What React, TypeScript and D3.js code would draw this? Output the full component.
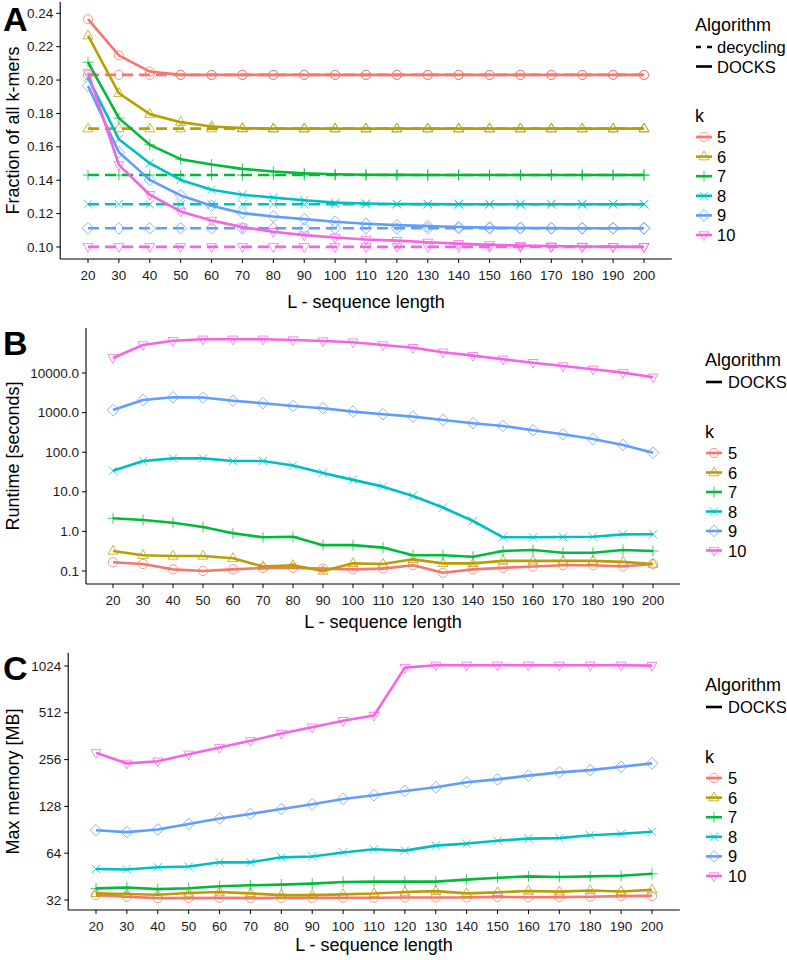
import React from "react";
import * as d3 from "d3";

// ---------- DATA ----------
const lengths = [20, 30, 40, 50, 60, 70, 80, 90, 100, 110, 120, 130, 140, 150, 160, 170, 180, 190, 200];
const kValues = [5, 6, 7, 8, 9, 10];
const kColors = ["#F8766D", "#B79F00", "#00BA38", "#00BFC4", "#619CFF", "#F564E3"];
const kShapes = ["circle", "triangleUp", "plus", "cross", "diamond", "triangleDown"];

// Panel A: fraction of all k-mers
const decycling5 = [0.2031, 0.2031, 0.2031, 0.2031, 0.2031, 0.2031, 0.2031, 0.2031, 0.2031, 0.2031, 0.2031, 0.2031, 0.2031, 0.2031, 0.2031, 0.2031, 0.2031, 0.2031, 0.2031];
const decycling6 = [0.1709, 0.1709, 0.1709, 0.1709, 0.1709, 0.1709, 0.1709, 0.1709, 0.1709, 0.1709, 0.1709, 0.1709, 0.1709, 0.1709, 0.1709, 0.1709, 0.1709, 0.1709, 0.1709];
const decycling7 = [0.1431, 0.1431, 0.1431, 0.1431, 0.1431, 0.1431, 0.1431, 0.1431, 0.1431, 0.1431, 0.1431, 0.1431, 0.1431, 0.1431, 0.1431, 0.1431, 0.1431, 0.1431, 0.1431];
const decycling8 = [0.1256, 0.1256, 0.1256, 0.1256, 0.1256, 0.1256, 0.1256, 0.1256, 0.1256, 0.1256, 0.1256, 0.1256, 0.1256, 0.1256, 0.1256, 0.1256, 0.1256, 0.1256, 0.1256];
const decycling9 = [0.1112, 0.1112, 0.1112, 0.1112, 0.1112, 0.1112, 0.1112, 0.1112, 0.1112, 0.1112, 0.1112, 0.1112, 0.1112, 0.1112, 0.1112, 0.1112, 0.1112, 0.1112, 0.1112];
const decycling10 = [0.1001, 0.1001, 0.1001, 0.1001, 0.1001, 0.1001, 0.1001, 0.1001, 0.1001, 0.1001, 0.1001, 0.1001, 0.1001, 0.1001, 0.1001, 0.1001, 0.1001, 0.1001, 0.1001];

const docksFrac5 = [0.2365, 0.2148, 0.2051, 0.2031, 0.2031, 0.2031, 0.2031, 0.2031, 0.2031, 0.2031, 0.2031, 0.2031, 0.2031, 0.2031, 0.2031, 0.2031, 0.2031, 0.2031, 0.2031];
const docksFrac6 = [0.2266, 0.1921, 0.1796, 0.1748, 0.1722, 0.1712, 0.1709, 0.1709, 0.1709, 0.1709, 0.1709, 0.1709, 0.1709, 0.1709, 0.1709, 0.1709, 0.1709, 0.1709, 0.1709];
const docksFrac7 = [0.2107, 0.1772, 0.1612, 0.1526, 0.1494, 0.1468, 0.1452, 0.1441, 0.1436, 0.1433, 0.1432, 0.1431, 0.1431, 0.1431, 0.1431, 0.1431, 0.1431, 0.1431, 0.1431];
const docksFrac8 = [0.2015, 0.1646, 0.1502, 0.1402, 0.1343, 0.1313, 0.1296, 0.1280, 0.1266, 0.1261, 0.1258, 0.1257, 0.1256, 0.1256, 0.1256, 0.1256, 0.1256, 0.1256, 0.1256];
const docksFrac9 = [0.1965, 0.1568, 0.1402, 0.1309, 0.1247, 0.1203, 0.1183, 0.1167, 0.1151, 0.1139, 0.1131, 0.1125, 0.1120, 0.1116, 0.1114, 0.1113, 0.1112, 0.1112, 0.1112];
const docksFrac10 = [0.2045, 0.1492, 0.1313, 0.1213, 0.1159, 0.1119, 0.1091, 0.1071, 0.1057, 0.1045, 0.1038, 0.1028, 0.1020, 0.1013, 0.1008, 0.1005, 0.1003, 0.1002, 0.1001];

// Panel B: runtime [seconds]
const runtime5 = [0.166, 0.15, 0.11, 0.10, 0.11, 0.12, 0.12, 0.115, 0.11, 0.115, 0.14, 0.09, 0.11, 0.12, 0.13, 0.14, 0.14, 0.13, 0.15];
const runtime6 = [0.32, 0.25, 0.24, 0.24, 0.21, 0.13, 0.14, 0.10, 0.156, 0.15, 0.197, 0.156, 0.156, 0.18, 0.18, 0.18, 0.18, 0.17, 0.15];
const runtime7 = [2.14, 1.94, 1.66, 1.29, 0.895, 0.71, 0.73, 0.45, 0.45, 0.39, 0.25, 0.25, 0.23, 0.32, 0.34, 0.29, 0.29, 0.34, 0.32];
const runtime8 = [34, 60, 70, 70, 60, 60, 46, 30, 20, 13.5, 7.8, 4.0, 1.83, 0.71, 0.71, 0.72, 0.73, 0.84, 0.85];
const runtime9 = [1160, 2080, 2430, 2400, 2000, 1720, 1470, 1290, 1060, 910, 790, 650, 540, 460, 360, 283, 215, 152, 97];
const runtime10 = [24000, 51000, 65000, 71000, 71000, 71000, 68000, 64000, 60000, 51000, 43500, 33400, 27400, 22200, 18200, 15000, 12400, 10200, 7800];

// Panel C: max memory [MB]
const memory5 = [34.4, 33.6, 32.9, 32.9, 33.0, 32.9, 33.0, 33.0, 33.1, 33.1, 33.2, 33.2, 33.2, 33.5, 33.3, 33.4, 33.6, 33.9, 34.0];
const memory6 = [35.3, 35.0, 34.6, 35.5, 36.0, 35.3, 34.4, 34.4, 34.8, 35.2, 36.0, 36.5, 35.3, 35.8, 36.6, 36.2, 36.8, 36.3, 37.2];
const memory7 = [38.0, 38.5, 37.6, 38.1, 39.2, 39.8, 40.2, 40.8, 41.8, 42.0, 42.0, 42.0, 43.3, 44.5, 45.4, 45.0, 45.4, 45.8, 47.2];
const memory8 = [50.6, 50.3, 52.0, 52.5, 55.9, 55.9, 60.2, 61.0, 64.7, 67.8, 66.5, 71.6, 73.8, 77.0, 79.4, 80.0, 83.5, 85.3, 88.0];
const memory9 = [90, 87.5, 91, 98.6, 107, 114.5, 123, 132, 143, 151, 161, 170, 183, 191, 202, 212, 219, 230, 242];
const memory10 = [283, 242, 250, 277, 306, 338, 377, 413, 455, 492, 1000, 1035, 1035, 1035, 1035, 1035, 1035, 1035, 1030];

const xTicks = [20, 30, 40, 50, 60, 70, 80, 90, 100, 110, 120, 130, 140, 150, 160, 170, 180, 190, 200];
const fracTicks = [0.10, 0.12, 0.14, 0.16, 0.18, 0.20, 0.22, 0.24];
const fracTickLabels = ["0.10", "0.12", "0.14", "0.16", "0.18", "0.20", "0.22", "0.24"];
const runtimeTicks = [0.1, 1, 10, 100, 1000, 10000];
const runtimeTickLabels = ["0.1", "1.0", "10.0", "100.0", "1000.0", "10000.0"];
const memoryTicks = [32, 64, 128, 256, 512, 1024];
const memoryTickLabels = ["32", "64", "128", "256", "512", "1024"];

const algoLabelsA = ["decycling", "DOCKS"];
const algoLabelsBC = ["DOCKS"];

// ---------- DRAWING ----------
const FONT = "'Liberation Sans', Arial, Helvetica, sans-serif";

function shapePath(shape: string): string {
  switch (shape) {
    case "circle":
      return "M4.6,0A4.6,4.6 0 1,1 -4.6,0A4.6,4.6 0 1,1 4.6,0Z";
    case "triangleUp":
      return "M0,-5.6L5,3.2L-5,3.2Z";
    case "plus":
      return "M-5.5,0H5.5M0,-5.5V5.5";
    case "cross":
      return "M-4.2,-4.2L4.2,4.2M-4.2,4.2L4.2,-4.2";
    case "diamond":
      return "M0,-5.8L5.8,0L0,5.8L-5.8,0Z";
    case "triangleDown":
      return "M0,5.6L5,-3.2L-5,-3.2Z";
  }
  return "";
}

type Series = { values: number[]; ki: number; dashed: boolean };

type PanelProps = {
  letter: string;
  letterY: number;
  xScale: d3.ScaleLinear<number, number>;
  yScale: any;
  top: number;
  bottom: number;
  series: Series[];
  yTicks: number[];
  yTickLabels: string[];
  yTitle: string;
  xTitleY: number;
  legendX: number;
  legendAlgoY: number;
  algoLabels: string[];
  algoDashed: boolean[];
  legendKY: number;
  legendStep: number;
  keyX0: number;
  keyX1: number;
  textX: number;
};

function Panel(p: PanelProps) {
  const { xScale, yScale } = p;
  const axisX0 = xScale(11);
  const axisX1 = xScale(209);
  const line = d3
    .line<number>()
    .x((_, i) => xScale(lengths[i]))
    .y((d) => yScale(d));
  const tickColor = "#1a1a1a";
  return (
    <g>
      {p.series.map((s, si) => (
        <path
          key={"l" + si}
          d={line(s.values) || ""}
          fill="none"
          stroke={kColors[s.ki]}
          strokeWidth={2.6}
          strokeDasharray={s.dashed ? "11,6" : undefined}
          strokeLinejoin="round"
        />
      ))}
      {p.series.map((s, si) => (
        <g key={"p" + si}>
          {s.values.map((v, i) => (
            <path
              key={i}
              d={shapePath(kShapes[s.ki])}
              transform={`translate(${xScale(lengths[i])},${yScale(v)})`}
              fill="none"
              stroke={kColors[s.ki]}
              strokeWidth={1}
              opacity={0.75}
            />
          ))}
        </g>
      ))}
      <line x1={axisX0} x2={axisX1} y1={p.bottom} y2={p.bottom} stroke="#000" strokeWidth={1.1} />
      <line x1={axisX0} x2={axisX0} y1={p.top} y2={p.bottom} stroke="#000" strokeWidth={1.1} />
      {xTicks.map((t) => (
        <g key={"xt" + t}>
          <line x1={xScale(t)} x2={xScale(t)} y1={p.bottom} y2={p.bottom + 4} stroke="#000" strokeWidth={1} />
          <text
            x={xScale(t)}
            y={p.bottom + 16}
            textAnchor="middle"
            dominantBaseline="central"
            fontSize={13.5}
            fontFamily={FONT}
            fill={tickColor}
          >
            {t}
          </text>
        </g>
      ))}
      {p.yTicks.map((t, i) => (
        <g key={"yt" + t}>
          <line x1={axisX0 - 4} x2={axisX0} y1={yScale(t)} y2={yScale(t)} stroke="#000" strokeWidth={1} />
          <text
            x={axisX0 - 7}
            y={yScale(t)}
            textAnchor="end"
            dominantBaseline="central"
            fontSize={13.5}
            fontFamily={FONT}
            fill={tickColor}
          >
            {p.yTickLabels[i]}
          </text>
        </g>
      ))}
      <text
        x={(axisX0 + axisX1) / 2}
        y={p.xTitleY}
        textAnchor="middle"
        dominantBaseline="central"
        fontSize={18}
        fontFamily={FONT}
        fill="#000"
      >
        L - sequence length
      </text>
      <text
        transform={`translate(13,${(p.top + p.bottom) / 2}) rotate(-90)`}
        textAnchor="middle"
        dominantBaseline="central"
        fontSize={18}
        fontFamily={FONT}
        fill="#000"
      >
        {p.yTitle}
      </text>
      <text x={3} y={p.letterY} fontSize={34} fontWeight="bold" fontFamily={FONT} fill="#000">
        {p.letter}
      </text>
      <text x={p.legendX} y={p.legendAlgoY} dominantBaseline="central" fontSize={18} fontFamily={FONT} fill="#000">
        Algorithm
      </text>
      {p.algoLabels.map((lab, i) => {
        const y = p.legendAlgoY + 22 + i * 19.5;
        return (
          <g key={"al" + lab}>
            <line
              x1={p.keyX0}
              x2={p.keyX1}
              y1={y}
              y2={y}
              stroke="#000"
              strokeWidth={2.6}
              strokeDasharray={p.algoDashed[i] ? "5,6" : undefined}
            />
            <text x={p.textX} y={y} dominantBaseline="central" fontSize={16.5} fontFamily={FONT} fill="#000">
              {lab}
            </text>
          </g>
        );
      })}
      <text x={p.legendX} y={p.legendKY} dominantBaseline="central" fontSize={18} fontFamily={FONT} fill="#000">
        k
      </text>
      {kValues.map((k, i) => {
        const y = p.legendKY + 21 + i * p.legendStep;
        const cx = (p.keyX0 + p.keyX1) / 2;
        return (
          <g key={"kl" + k}>
            <line x1={p.keyX0} x2={p.keyX1} y1={y} y2={y} stroke={kColors[i]} strokeWidth={2.6} />
            <path
              d={shapePath(kShapes[i])}
              transform={`translate(${cx},${y})`}
              fill="none"
              stroke={kColors[i]}
              strokeWidth={1}
              opacity={0.75}
            />
            <text x={p.textX} y={y} dominantBaseline="central" fontSize={16.5} fontFamily={FONT} fill="#000">
              {k}
            </text>
          </g>
        );
      })}
    </g>
  );
}

export default function App() {
  const fracDocks = [docksFrac5, docksFrac6, docksFrac7, docksFrac8, docksFrac9, docksFrac10];
  const fracDecyc = [decycling5, decycling6, decycling7, decycling8, decycling9, decycling10];
  const runtimes = [runtime5, runtime6, runtime7, runtime8, runtime9, runtime10];
  const memories = [memory5, memory6, memory7, memory8, memory9, memory10];

  const xA = d3.scaleLinear().domain([20, 200]).range([88, 644]);
  const yA = d3.scaleLinear().domain([0.10, 0.24]).range([247, 13.3]);
  const seriesA: Series[] = [
    ...fracDecyc.map((v, i) => ({ values: v, ki: i, dashed: true })),
    ...fracDocks.map((v, i) => ({ values: v, ki: i, dashed: false })),
  ];

  const xB = d3.scaleLinear().domain([20, 200]).range([113, 653]);
  const yB = d3.scaleLog().domain([0.1, 10000]).range([571, 373]);
  const seriesB: Series[] = runtimes.map((v, i) => ({ values: v, ki: i, dashed: false }));

  const xC = d3.scaleLinear().domain([20, 200]).range([96, 652]);
  const yC = d3.scaleLog().base(2).domain([32, 1024]).range([900, 666]);
  const seriesC: Series[] = memories.map((v, i) => ({ values: v, ki: i, dashed: false }));

  return (
    <div style={{ position: "absolute", left: 0, top: 0 }}>
      <svg width={787} height={960} style={{ display: "block", background: "#fff" }}>
        <rect width={787} height={960} fill="#fff" />
        <Panel
          letter="A"
          letterY={31}
          xScale={xA}
          yScale={yA}
          top={2}
          bottom={259}
          series={seriesA}
          yTicks={fracTicks}
          yTickLabels={fracTickLabels}
          yTitle="Fraction of all k-mers"
          xTitleY={302}
          legendX={695}
          legendAlgoY={25}
          algoLabels={algoLabelsA}
          algoDashed={[true, false]}
          legendKY={116}
          legendStep={19.6}
          keyX0={696}
          keyX1={712}
          textX={717}
        />
        <Panel
          letter="B"
          letterY={355}
          xScale={xB}
          yScale={yB}
          top={328}
          bottom={584}
          series={seriesB}
          yTicks={runtimeTicks}
          yTickLabels={runtimeTickLabels}
          yTitle="Runtime [seconds]"
          xTitleY={622}
          legendX={705}
          legendAlgoY={360}
          algoLabels={algoLabelsBC}
          algoDashed={[false]}
          legendKY={432}
          legendStep={19.5}
          keyX0={706}
          keyX1={722}
          textX={728}
        />
        <Panel
          letter="C"
          letterY={680}
          xScale={xC}
          yScale={yC}
          top={653}
          bottom={910}
          series={seriesC}
          yTicks={memoryTicks}
          yTickLabels={memoryTickLabels}
          yTitle="Max memory [MB]"
          xTitleY={945}
          legendX={705}
          legendAlgoY={685}
          algoLabels={algoLabelsBC}
          algoDashed={[false]}
          legendKY={757}
          legendStep={19.6}
          keyX0={706}
          keyX1={722}
          textX={728}
        />
      </svg>
    </div>
  );
}
